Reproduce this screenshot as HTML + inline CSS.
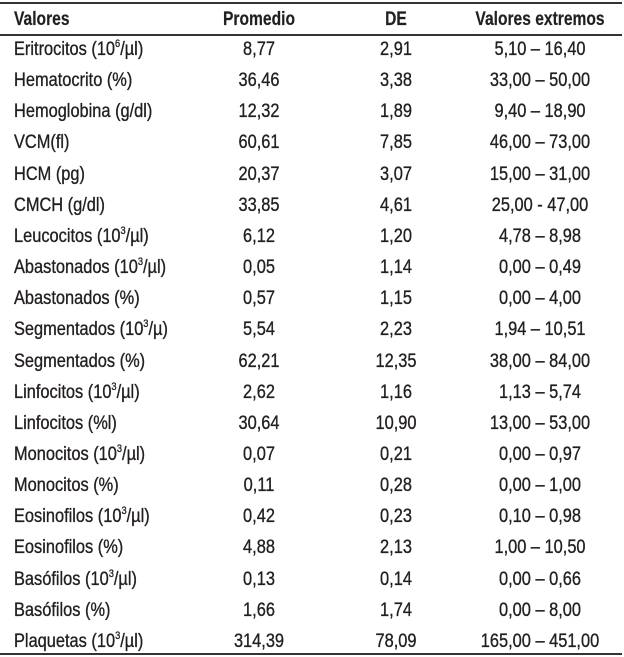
<!DOCTYPE html>
<html><head><meta charset="utf-8"><style>
body{margin:0;background:#fff;}
#t{position:relative;width:624px;height:657px;overflow:hidden;font-family:"Liberation Sans",sans-serif;color:#231f20;font-size:19.5px;}
.c{position:absolute;white-space:nowrap;line-height:22px;-webkit-text-stroke:0.35px #231f20;}
.c span{display:inline-block;transform:scaleX(0.84);}
.l span{transform-origin:left center;}
.m{transform:translateX(-50%);}
.m span{transform-origin:center center;}
.h{font-weight:bold;-webkit-text-stroke:0.2px #231f20;}
.h span{transform:scaleX(0.8);}
.rule{position:absolute;left:0;width:622px;height:2px;background:#333;}
sup{font-size:11px;line-height:0;vertical-align:8px;}
</style></head><body>
<div id="t">
<div class="rule" style="top:2px"></div>
<div class="rule" style="top:34px"></div>
<div class="rule" style="top:653px"></div>
</div>
<script>
const labels=["Eritrocitos (10<sup>6</sup>/µl)","Hematocrito (%)","Hemoglobina (g/dl)","VCM(fl)","HCM (pg)","CMCH (g/dl)","Leucocitos (10<sup>3</sup>/µl)","Abastonados (10<sup>3</sup>/µl)","Abastonados (%)","Segmentados (10<sup>3</sup>/µ)","Segmentados (%)","Linfocitos (10<sup>3</sup>/µl)","Linfocitos (%l)","Monocitos (10<sup>3</sup>/µl)","Monocitos (%)","Eosinofilos (10<sup>3</sup>/µl)","Eosinofilos (%)","Basófilos (10<sup>3</sup>/µl)","Basófilos (%)","Plaquetas (10<sup>3</sup>/µl)"];
const means=["8,77","36,46","12,32","60,61","20,37","33,85","6,12","0,05","0,57","5,54","62,21","2,62","30,64","0,07","0,11","0,42","4,88","0,13","1,66","314,39"];
const sds=["2,91","3,38","1,89","7,85","3,07","4,61","1,20","1,14","1,15","2,23","12,35","1,16","10,90","0,21","0,28","0,23","2,13","0,14","1,74","78,09"];
const ranges=["5,10 – 16,40","33,00 – 50,00","9,40 – 18,90","46,00 – 73,00","15,00 – 31,00","25,00 -  47,00","4,78 – 8,98","0,00 – 0,49","0,00 – 4,00","1,94 – 10,51","38,00 – 84,00","1,13 – 5,74","13,00 – 53,00","0,00 – 0,97","0,00 – 1,00","0,10 – 0,98","1,00 – 10,50","0,00 – 0,66","0,00 – 8,00","165,00 – 451,00"];
const headers=["Valores","Promedio","DE","Valores extremos"];
const t=document.getElementById('t');
const xs=[14,259,396,540];
function cell(html,col,y,cls,name){
  const d=document.createElement('div');
  d.className='c '+(col===0?'l ':'m ')+cls;
  d.style.left=xs[col]+'px';d.style.top=(y-11)+'px';
  d.innerHTML='<span>'+html+'</span>';
  
  
  t.appendChild(d);
}
headers.forEach((h,i)=>cell(h,i,19,'h','header-'+i));
labels.forEach((lab,r)=>{
  const y=49+r*31.15;
  cell(lab,0,y,'','row-label');
  cell(means[r],1,y,'','row-mean');
  cell(sds[r],2,y,'','row-sd');
  cell(ranges[r],3,y,'','row-range');
});
</script>
</body></html>
